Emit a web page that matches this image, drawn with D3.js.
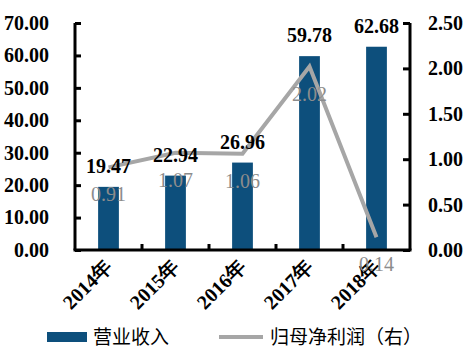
<!DOCTYPE html>
<html>
<head>
<meta charset="utf-8">
<script src="https://cdn.jsdelivr.net/npm/d3@7"></script>
<style>
  body { margin: 0; background: #fff; }
  svg { display: block; }
</style>
</head>
<body>
<div id="chart"></div>
<script>
// data
const years = ["2014年", "2015年", "2016年", "2017年", "2018年"];
const revenue = [19.47, 22.94, 26.96, 59.78, 62.68];
const netProfit = [0.91, 1.07, 1.06, 2.02, 0.14];
const leftTicks = [0, 10, 20, 30, 40, 50, 60, 70];
const rightTicks = [0, 0.5, 1, 1.5, 2, 2.5];

const width = 473, height = 354;
const margin = { top: 23, right: 63, bottom: 104, left: 75 };
const innerW = width - margin.left - margin.right;
const innerH = height - margin.top - margin.bottom;

const barColor = "#0d4f7c";
const lineColor = "#a6a6a6";
const numFont = "'Liberation Serif', 'Times New Roman', serif";
const cjkFont = "'Noto Sans CJK SC', sans-serif";

const svg = d3.select("#chart").append("svg")
    .attr("width", width)
    .attr("height", height);

const g = svg.append("g")
    .attr("transform", `translate(${margin.left},${margin.top})`);

const x = d3.scaleBand()
    .domain(years)
    .range([0, innerW])
    .paddingInner(0.69)
    .paddingOuter(0.345);

const xc = d3.scaleBand().domain(years).range([0, innerW]);

const yL = d3.scaleLinear().domain([0, 70]).range([innerH, 0]);
const yR = d3.scaleLinear().domain([0, 2.5]).range([innerH, 0]);

// bars
g.selectAll(".bar")
    .data(revenue)
    .enter().append("rect")
    .attr("class", "bar")
    .attr("x", (d, i) => x(years[i]))
    .attr("y", d => yL(d))
    .attr("width", x.bandwidth())
    .attr("height", d => innerH - yL(d))
    .attr("fill", barColor);

// line
const line = d3.line()
    .x((d, i) => xc(years[i]) + xc.bandwidth() / 2)
    .y(d => yR(d));

g.append("path")
    .datum(netProfit)
    .attr("fill", "none")
    .attr("stroke", lineColor)
    .attr("stroke-width", 4)
    .attr("d", line);

// axes
const axisL = d3.axisLeft(yL).tickValues(leftTicks).tickSize(-6).tickPadding(26)
    .tickFormat(d3.format(".2f"));
const axisR = d3.axisRight(yR).tickValues(rightTicks).tickSize(-7).tickPadding(18)
    .tickFormat(d3.format(".2f"));
const axisB = d3.axisBottom(xc).tickSize(-6).tickFormat("");

function styleAxis(sel) {
    sel.select(".domain").attr("stroke", "#000").attr("stroke-width", 3);
    sel.selectAll(".tick line").attr("stroke", "#000").attr("stroke-width", 3);
    sel.selectAll(".tick text")
        .attr("fill", "#000")
        .style("font-family", numFont)
        .style("font-weight", "bold")
        .style("font-size", "20px");
}

const gl = g.append("g").call(axisL).call(styleAxis);
gl.select(".domain").attr("d", `M0,0V${innerH}`);
gl.selectAll(".tick text").attr("x", -26);

const gr = g.append("g").attr("transform", `translate(${innerW},0)`).call(axisR).call(styleAxis);
gr.select(".domain").attr("d", `M0,0V${innerH}`);
gr.selectAll(".tick text").attr("x", 18);

const gb = g.append("g").attr("transform", `translate(0,${innerH})`).call(axisB).call(styleAxis);
gb.select(".domain").attr("d", `M-1.5,0H${innerW + 1.5}`);
gb.selectAll(".tick").filter((d, i) => i === 0).remove();
gb.selectAll(".tick").attr("transform", d => `translate(${xc(d)},0)`);

// rotated category labels
g.selectAll(".xlabel")
    .data(years)
    .enter().append("g")
    .attr("class", "xlabel")
    .attr("transform", d => `translate(${xc(d) + xc.bandwidth() / 2 + 5},${innerH + 18})`)
    .append("text")
    .attr("transform", "rotate(-45)")
    .attr("text-anchor", "end")
    .style("font-family", numFont)
    .style("font-weight", "bold")
    .style("font-size", "20px")
    .text(d => d);

// bar value labels
g.selectAll(".barlabel")
    .data(revenue)
    .enter().append("text")
    .attr("class", "barlabel")
    .attr("x", (d, i) => xc(years[i]) + xc.bandwidth() / 2)
    .attr("y", d => yL(d) - 14)
    .attr("text-anchor", "middle")
    .style("font-family", numFont)
    .style("font-weight", "bold")
    .style("font-size", "20px")
    .text(d => d.toFixed(2));

// line value labels
g.selectAll(".linelabel")
    .data(netProfit)
    .enter().append("text")
    .attr("class", "linelabel")
    .attr("x", (d, i) => xc(years[i]) + xc.bandwidth() / 2)
    .attr("y", d => yR(d) + 34)
    .attr("text-anchor", "middle")
    .attr("fill", "#8c8c8c")
    .style("font-family", numFont)
    .style("font-size", "20px")
    .text(d => d.toFixed(2));

// legend
const lg = svg.append("g").attr("transform", "translate(0,337)");
lg.append("rect").attr("x", 47).attr("y", -5).attr("width", 40).attr("height", 10).attr("fill", barColor);
lg.append("text").attr("x", 93).attr("y", 7)
    .style("font-family", cjkFont).style("font-size", "19px").text("营业收入");
lg.append("line").attr("x1", 219).attr("x2", 263).attr("y1", 0).attr("y2", 0)
    .attr("stroke", lineColor).attr("stroke-width", 4);
lg.append("text").attr("x", 270).attr("y", 7)
    .style("font-family", cjkFont).style("font-size", "19px").text("归母净利润（右）");
</script>
</body>
</html>
